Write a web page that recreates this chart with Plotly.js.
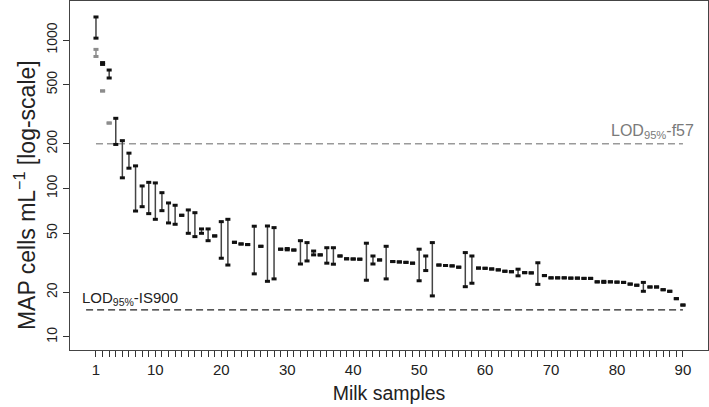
<!DOCTYPE html>
<html>
<head>
<meta charset="utf-8">
<script src="https://cdn.plot.ly/plotly-3.0.1.min.js"></script>
<style>html,body{margin:0;padding:0;background:#fff;}#chart{width:709px;height:407px;}</style>
</head>
<body>
<div id="chart"></div>
<script>
// Sample numbers (x categories)
const samples = [1,2,3,4,5,6,7,8,9,10,11,12,13,14,15,16,17,18,19,20,21,22,23,24,25,26,27,28,29,30,
  31,32,33,34,35,36,37,38,39,40,41,42,43,44,45,46,47,48,49,50,51,52,53,54,55,56,57,58,59,60,
  61,62,63,64,65,66,67,68,69,70,71,72,73,74,75,76,77,78,79,80,81,82,83,84,85,86,87,88,89,90];
// IS900 results: lower and upper values per sample (MAP cells/mL)
const is900Low = [1030,685,555,198,118,137,70.5,75.4,67.7,62,70.9,58.6,57.4,66,49.9,47.4,49.9,44.5,47.9,33.9,
  30.5,43.4,42.3,41.9,26.6,40.8,23.7,24.6,39.0,38.6,38.5,31.0,32.5,35.7,35.7,31.4,30.9,35.1,33.6,33.5,
  33.4,24.1,31.0,33.0,24.6,32.2,32.0,31.8,31.4,23.9,28.0,18.9,30.5,30.3,30.1,29.5,21.8,23.0,29.1,29.0,
  28.7,28.3,27.7,27.5,25.8,27.1,27.0,22.6,25.9,25.0,25.0,25.0,24.9,24.9,24.8,24.8,23.5,23.3,23.5,23.4,
  23.3,22.7,22.3,20.3,21.7,21.7,20.8,20.3,18.1,16.4];
const is900High = [1430,705,628,297,210,173,142,104,110,109,93.7,79.9,77.1,66,71.7,68.7,53.4,53.4,47.9,59.8,
  62,43.4,42.3,41.9,55.7,40.8,55.9,54.5,39.0,39.4,38.5,44.5,43.2,37.9,35.7,39.9,39.9,35.1,33.6,33.5,
  33.4,42.8,35.1,33.0,40.8,32.2,32.0,31.8,31.4,39.0,35.1,43.2,30.5,30.3,30.1,29.5,37.0,35.1,29.1,29.0,
  28.7,28.3,27.7,27.5,28.6,27.1,27.0,31.6,25.9,25.0,25.0,25.0,24.9,24.9,24.8,24.8,23.5,23.7,23.5,23.4,
  23.3,22.7,22.3,23.3,21.7,21.7,20.8,20.3,18.1,16.4];
// f57 results (only samples above the f57 detection limit)
const f57Samples = [1,2,3];
const f57Low = [775,454,276];
const f57High = [865,454,276];
// Detection limits
const lodF57 = 200;
const lodIS900 = 15.2;
// Axis tick labels
const yTickVals = [10,20,50,100,200,500,1000];
const xLabelled = [1,10,20,30,40,50,60,70,80,90];

const FONT = 'Liberation Sans, Arial, sans-serif';
const diff = (hi, lo) => hi.map((h, i) => h - lo[i]);
const zeros = a => a.map(() => 0);
const DASH = {symbol:'line-ew', size:3.6};

const traces = [
  // LOD lines
  {x:[1,90], y:[lodF57,lodF57], mode:'lines', line:{color:'#9a9a9a', width:1.4, dash:'7px,4px'}, hoverinfo:'skip'},
  {x:[-0.5,90], y:[lodIS900,lodIS900], mode:'lines', line:{color:'#222', width:1.3, dash:'7px,4px'}, hoverinfo:'skip'},
  // f57 ranges (gray)
  {x:f57Samples, y:f57High, mode:'markers',
   marker:Object.assign({line:{width:3, color:'#8c8c8c'}}, DASH),
   error_y:{type:'data', symmetric:false, array:zeros(f57High), arrayminus:diff(f57High,f57Low), width:0, thickness:1.5, color:'#8c8c8c'}},
  {x:f57Samples, y:f57Low, mode:'markers',
   marker:Object.assign({line:{width:3, color:'#8c8c8c'}}, DASH)},
  // IS900 ranges (black)
  {x:samples, y:is900High, mode:'markers',
   marker:Object.assign({line:{width:3, color:'#111'}}, DASH),
   error_y:{type:'data', symmetric:false, array:zeros(is900High), arrayminus:diff(is900High,is900Low), width:0, thickness:1.5, color:'#444'}},
  {x:samples, y:is900Low, mode:'markers',
   marker:Object.assign({line:{width:3, color:'#111'}}, DASH)}
];

const layout = {
  width:709, height:407,
  margin:{l:70, r:1, t:1, b:57},
  paper_bgcolor:'#fff', plot_bgcolor:'#fff',
  showlegend:false,
  font:{family:FONT, color:'#222', size:15},
  xaxis:{
    range:[-2.94,93.8], showgrid:false, zeroline:false,
    showline:true, mirror:true, linecolor:'#444', linewidth:1.3,
    tickmode:'array', tickvals:samples,
    ticktext:samples.map(s => xLabelled.includes(s) ? String(s) : ''),
    ticks:'outside', ticklen:6, tickwidth:1, tickcolor:'#333',
    tickfont:{family:FONT, size:15, color:'#222'},
    title:{text:'Milk samples', font:{family:FONT, size:19.5, color:'#222'}, standoff:9}
  },
  yaxis:{
    type:'log', range:[0.912,3.263], showgrid:false, zeroline:false,
    showline:true, mirror:true, linecolor:'#444', linewidth:1.3,
    tickmode:'array', tickvals:yTickVals, ticktext:yTickVals.map(String),
    ticks:'outside', ticklen:6, tickwidth:1, tickcolor:'#333', tickangle:-90,
    tickfont:{family:FONT, size:14, color:'#222'}
  },
  annotations:[
    {x:-0.0705, y:0.444, xref:'paper', yref:'paper', xanchor:'center', yanchor:'middle', showarrow:false,
     textangle:-90, text:'MAP cells mL<sup>−1</sup> [log-scale]', font:{family:FONT, size:23, color:'#222'}},
    {x:92, y:Math.log10(lodF57)+0.08, xref:'x', yref:'y', xanchor:'right', yanchor:'middle', showarrow:false,
     text:'LOD<sub>95%</sub>-f57', font:{family:FONT, size:16, color:'#7a7a7a'}},
    {x:-1.5, y:Math.log10(lodIS900)+0.08, xref:'x', yref:'y', xanchor:'left', yanchor:'middle', showarrow:false,
     text:'LOD<sub>95%</sub>-IS900', font:{family:FONT, size:15, color:'#222'}}
  ]
};

Plotly.newPlot('chart', traces, layout, {displayModeBar:false, staticPlot:true});
</script>
</body>
</html>
